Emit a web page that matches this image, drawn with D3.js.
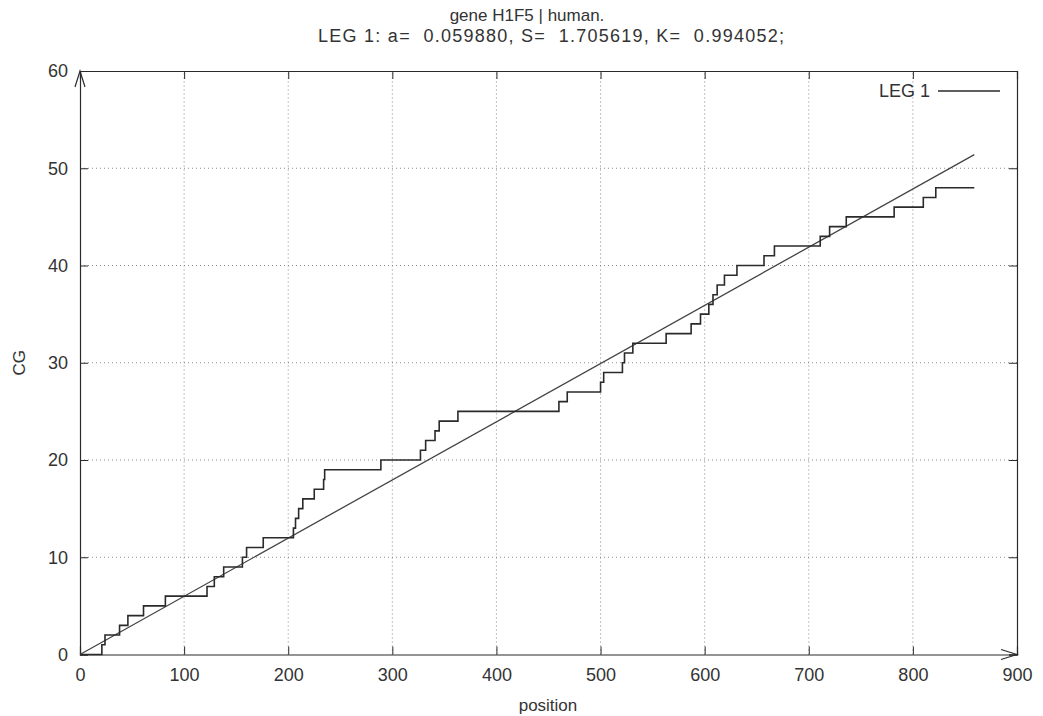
<!DOCTYPE html>
<html>
<head>
<meta charset="utf-8">
<script src="https://cdn.jsdelivr.net/npm/d3@7"></script>
<style>
  body { margin: 0; background: #fff; }
  svg { display: block; font-family: "Liberation Sans", Arial, sans-serif; }
  .grid line { stroke: #888; stroke-width: 1; stroke-dasharray: 1,3; }
  .tick text { fill: #333; }
</style>
</head>
<body>
<div id="chart"></div>
<script>
// step curve: cumulative CG count along position
var stepX = [0, 21, 24, 38, 46, 61, 82, 122, 129, 138, 156, 160, 176, 205, 207, 210, 214, 225, 234, 235,
  289, 327, 332, 341, 345, 363, 460, 468, 500, 503, 521, 523, 531, 563, 587, 596, 604, 608, 612, 619,
  631, 657, 667, 711, 720, 736, 782, 810, 822, 859];
var stepY = [0, 1, 2, 3, 4, 5, 6, 7, 8, 9, 10, 11, 12, 13, 14, 15, 16, 17, 18, 19,
  20, 21, 22, 23, 24, 25, 26, 27, 28, 29, 30, 31, 32, 33, 34, 35, 36, 37, 38, 39,
  40, 41, 42, 43, 44, 45, 46, 47, 48, 48];

// fitted line end points
var fitX = [0, 859];
var fitY = [0, 51.4];

var xTicks = [0, 100, 200, 300, 400, 500, 600, 700, 800, 900];
var yTicks = [0, 10, 20, 30, 40, 50, 60];

var titleLines = ["gene H1F5 | human.", "LEG 1: a=  0.059880, S=  1.705619, K=  0.994052;"];
var legendLabel = "LEG 1";

var svgWidth = 1043;
var svgHeight = 716;

var svg = d3.select("#chart")
  .append("svg")
  .attr("width", svgWidth)
  .attr("height", svgHeight);

var x = d3.scaleLinear().domain([0, 900]).range([80, 1017]);
var y = d3.scaleLinear().domain([0, 60]).range([654.5, 71]);

var ink = "#2a2a2a";

// grid
var grid = svg.append("g").attr("class", "grid");
grid.selectAll(".gx")
  .data(xTicks.slice(1, -1))
  .enter().append("line")
  .attr("x1", d => x(d)).attr("x2", d => x(d))
  .attr("y1", y(0)).attr("y2", y(60));
grid.selectAll(".gy")
  .data(yTicks.slice(1, -1))
  .enter().append("line")
  .attr("x1", x(0)).attr("x2", x(900))
  .attr("y1", d => y(d)).attr("y2", d => y(d));

// axes (ticks inside, mirrored on the other side)
var bottomAxis = d3.axisBottom(x).tickValues(xTicks).tickSize(-8).tickPadding(14);
var leftAxis = d3.axisLeft(y).tickValues(yTicks).tickSize(-8).tickPadding(12);

var gx = svg.append("g")
  .attr("transform", `translate(0, ${y(0)})`)
  .call(bottomAxis);
var gy = svg.append("g")
  .attr("transform", `translate(${x(0)}, 0)`)
  .call(leftAxis);
var gxTop = svg.append("g")
  .attr("transform", `translate(0, ${y(60)})`)
  .call(d3.axisTop(x).tickValues(xTicks).tickSize(-8).tickFormat(""));
var gyRight = svg.append("g")
  .attr("transform", `translate(${x(900)}, 0)`)
  .call(d3.axisRight(y).tickValues(yTicks).tickSize(-8).tickFormat(""));

[gx, gy, gxTop, gyRight].forEach(function(g) {
  g.select(".domain").attr("stroke", ink).attr("stroke-width", 1.2);
  g.selectAll(".tick line").attr("stroke", ink);
  g.selectAll(".tick text").attr("font-size", "18px").attr("fill", "#333");
});

// arrow heads on the axes
svg.append("path")
  .attr("d", `M${x(0) - 5},${y(60) + 16}L${x(0)},${y(60)}L${x(0) + 5},${y(60) + 16}`)
  .attr("fill", "none").attr("stroke", ink).attr("stroke-width", 1.2);
svg.append("path")
  .attr("d", `M${x(900) - 16},${y(0) - 5}L${x(900)},${y(0)}L${x(900) - 16},${y(0) + 5}`)
  .attr("fill", "none").attr("stroke", ink).attr("stroke-width", 1.2);

// fitted line
var fitData = fitX.map((d, i) => [d, fitY[i]]);
svg.append("path")
  .datum(fitData)
  .attr("fill", "none")
  .attr("stroke", "#444")
  .attr("stroke-width", 1.3)
  .attr("d", d3.line().x(d => x(d[0])).y(d => y(d[1])));

// step curve
var stepData = stepX.map((d, i) => [d, stepY[i]]);
svg.append("path")
  .datum(stepData)
  .attr("fill", "none")
  .attr("stroke", ink)
  .attr("stroke-width", 1.6)
  .attr("d", d3.line().curve(d3.curveStepAfter).x(d => x(d[0])).y(d => y(d[1])));

// legend
svg.append("text")
  .attr("x", 930).attr("y", 97)
  .attr("text-anchor", "end")
  .attr("font-size", "18px")
  .attr("fill", "#333")
  .text(legendLabel);
svg.append("line")
  .attr("x1", 938).attr("x2", 1000)
  .attr("y1", 91).attr("y2", 91)
  .attr("stroke", ink).attr("stroke-width", 1.3);

// title
svg.append("text")
  .attr("x", 527).attr("y", 21)
  .attr("text-anchor", "middle")
  .attr("font-size", "17px")
  .attr("fill", "#333")
  .text(titleLines[0]);
svg.append("text")
  .attr("x", 318).attr("y", 42)
  .attr("font-size", "18px")
  .attr("fill", "#333")
  .attr("textLength", 466)
  .attr("lengthAdjust", "spacing")
  .style("white-space", "pre")
  .text(titleLines[1]);

// axis labels
svg.append("text")
  .attr("transform", `translate(25, ${(y(0) + y(60)) / 2}) rotate(-90)`)
  .attr("text-anchor", "middle")
  .attr("font-size", "17px")
  .attr("fill", "#333")
  .text("CG");
svg.append("text")
  .attr("x", 548).attr("y", 711)
  .attr("text-anchor", "middle")
  .attr("font-size", "17px")
  .attr("fill", "#333")
  .text("position");
</script>
</body>
</html>
